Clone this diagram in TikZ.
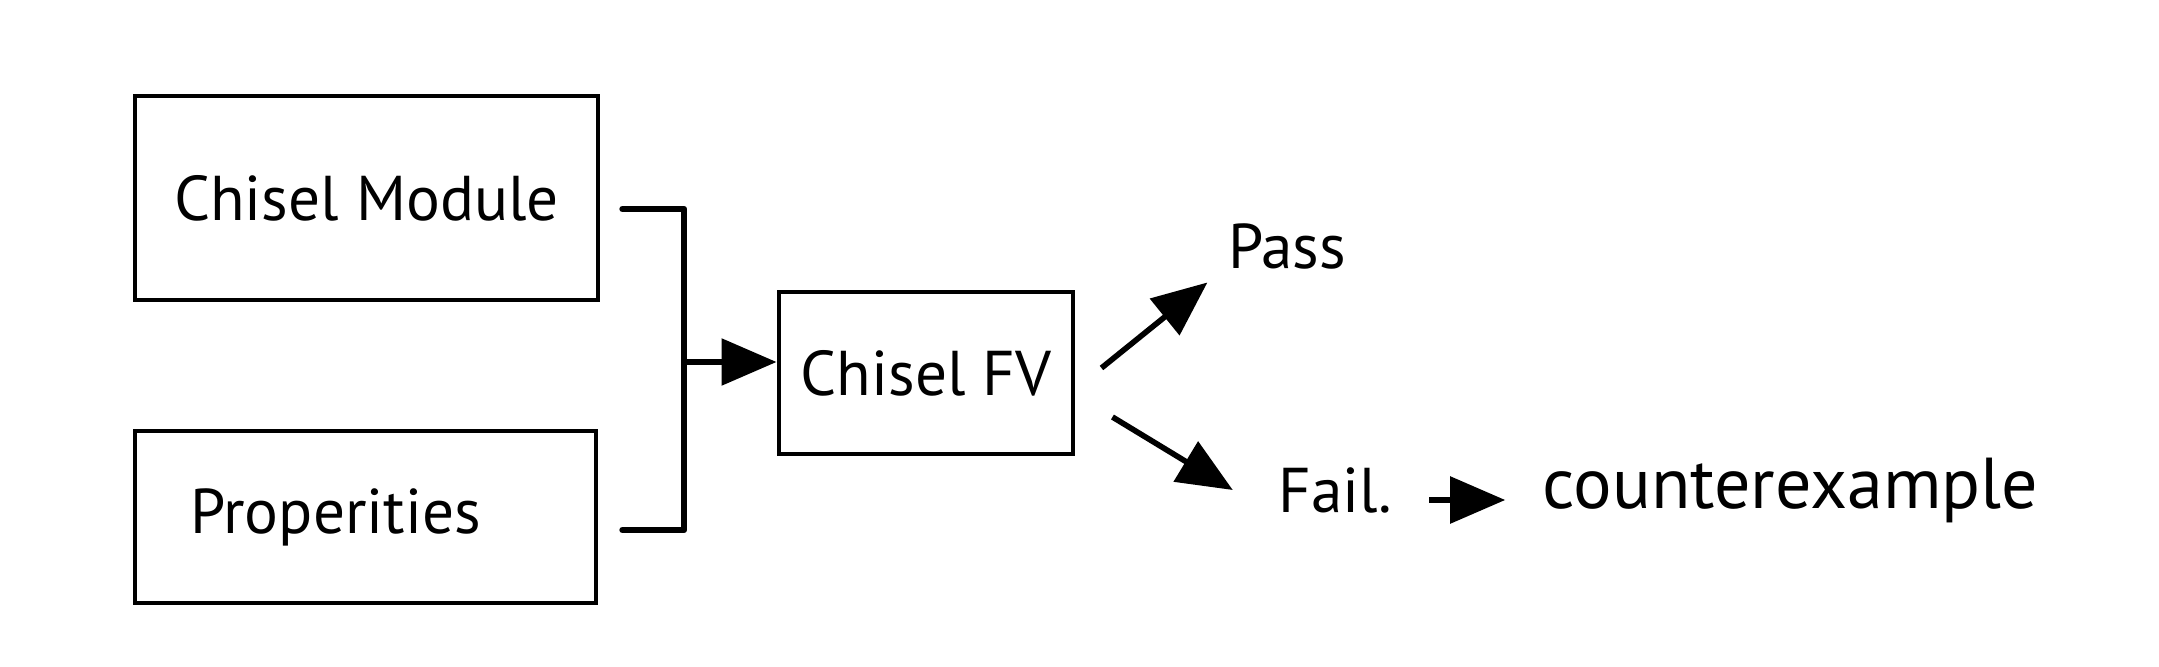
\documentclass[tikz,border=0pt]{standalone}
\usepackage{fontspec}
\setmainfont{PT Sans}
\usepackage{tikz}
\usetikzlibrary{arrows.meta, positioning, calc}
\tikzset{
  stagebox/.style={rectangle, draw, line width=1.4pt, inner sep=0pt},
  result/.style={inner sep=0pt, font=\fontsize{18}{20}\selectfont},
  wire/.style={line width=1.8pt, line join=round, line cap=round},
  bigarrow/.style={-{Triangle[length=5.5mm, width=4.6mm]}, line width=1.6pt},
}

\begin{document}
\begin{tikzpicture}[font=\fontsize{18}{20}\selectfont]
  \useasboundingbox (0,0) rectangle (21.59,-6.67);

  % inputs
  \node[stagebox, minimum width=4.63cm, minimum height=2.04cm] (module) at (3.665,-1.98) {Chisel Module};
  \node[stagebox, minimum width=4.61cm, minimum height=1.72cm] (props) at (3.655,-5.17) {\hspace*{-0.6cm}Properities};
  \node[stagebox, minimum width=2.94cm, minimum height=1.62cm] (fv) at (9.26,-3.73) {Chisel FV};

  % outcomes
  \node[result] (pass) at (12.87,-2.46) {Pass};
  \node[result] (fail) at (13.35,-4.9) {Fail.};
  \node[result, right=1.5cm of fail, font=\fontsize{20.5}{22}\selectfont] (cex) {counterexample};

  % merge both inputs into the checker
  \coordinate (bus) at (6.84,-3.62);
  \draw[wire] ([shift={(0.22,-0.11)}]module.east) -| (bus)
    |- ([shift={(0.24,-0.13)}]props.east);
  \draw[bigarrow] (bus) -- (bus -| fv.west);

  \draw[bigarrow] ([shift={(0.26,0.05)}]fv.east) -- ([shift={(-0.2,-0.13)}]pass.south west);
  \draw[bigarrow] ([shift={(0.37,-0.44)}]fv.east) -- ([shift={(-0.45,0)}]fail.west);
  \draw[bigarrow] ([shift={(0.37,-0.1)}]fail.east) -- ([shift={(-0.37,-0.1)}]cex.west);
\end{tikzpicture}
\end{document}
